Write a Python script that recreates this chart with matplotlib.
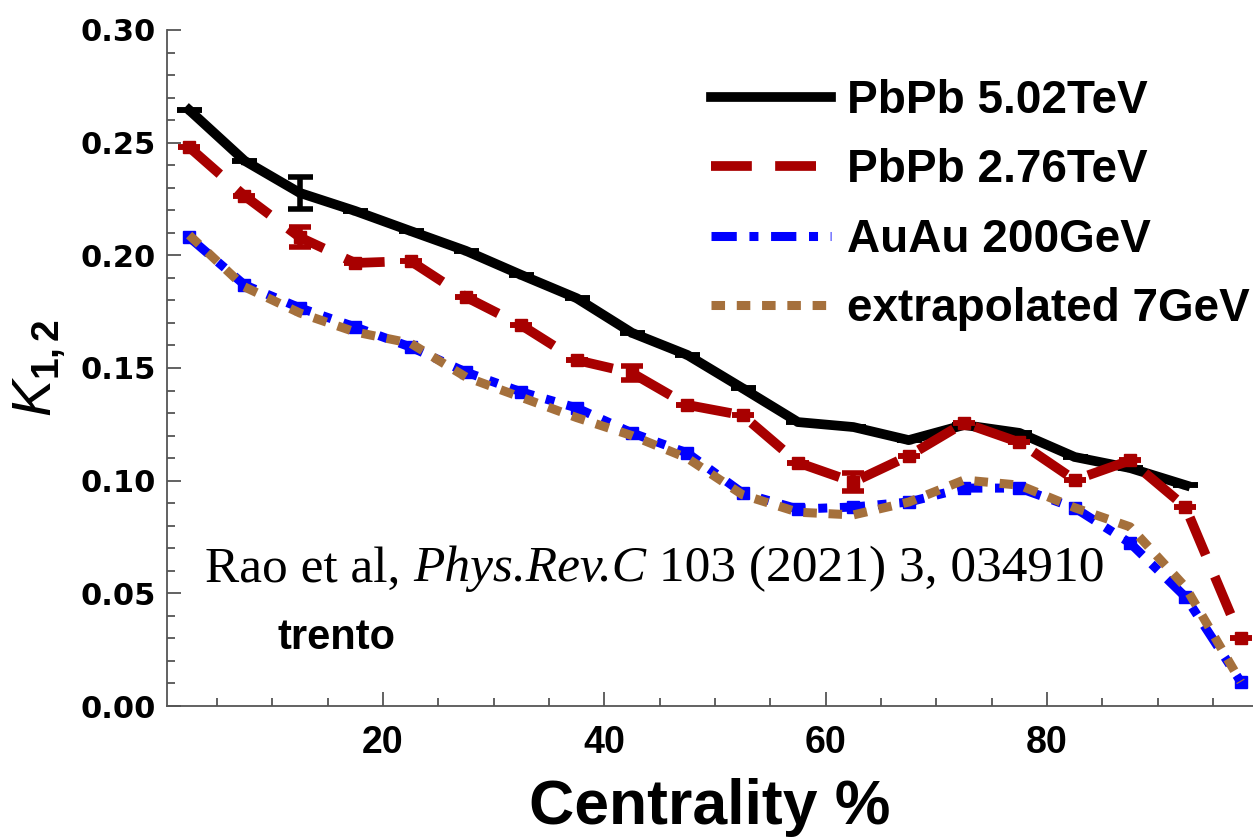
import numpy as np
import matplotlib
matplotlib.use("Agg")
import matplotlib.pyplot as plt
from matplotlib.ticker import MultipleLocator
from matplotlib.lines import Line2D

plt.rcParams['font.family'] = ['Liberation Sans', 'DejaVu Sans']
plt.rcParams['mathtext.fontset'] = 'custom'
plt.rcParams['mathtext.rm'] = 'Liberation Sans:bold'
plt.rcParams['mathtext.it'] = 'Liberation Sans:italic'
plt.rcParams['mathtext.sf'] = 'Liberation Sans:italic'
plt.rcParams['mathtext.bf'] = 'Liberation Sans:bold'

# centrality bin centres (%)
cent = [2.5, 7.5, 12.5, 17.5, 22.5, 27.5, 32.5, 37.5, 42.5, 47.5,
        52.5, 57.5, 62.5, 67.5, 72.5, 77.5, 82.5, 87.5, 92.5, 97.5]

# PbPb 5.02 TeV (stops at 92.5%)
k_pbpb502 = [0.2645, 0.242, 0.2277, 0.2197, 0.2108, 0.202, 0.1913, 0.181, 0.1656, 0.1558,
             0.141, 0.126, 0.1238, 0.118, 0.1247, 0.1212, 0.1105, 0.1056, 0.098]
err_pbpb502 = [0, 0, 0.007, 0, 0, 0, 0, 0, 0, 0,
               0, 0, 0, 0, 0, 0, 0, 0, 0]

k_pbpb276 = [0.248, 0.2264, 0.208, 0.1966, 0.1975, 0.1815, 0.169, 0.1535, 0.1478, 0.1336,
             0.129, 0.108, 0.0994, 0.111, 0.1256, 0.117, 0.1003, 0.109, 0.0883, 0.030]
err_pbpb276 = [0, 0, 0.0045, 0, 0, 0, 0, 0, 0.003, 0,
               0, 0, 0.004, 0, 0, 0, 0, 0, 0, 0]

k_auau200 = [0.208, 0.1869, 0.1767, 0.1682, 0.1593, 0.1482, 0.1394, 0.1323, 0.1212, 0.1123,
             0.0945, 0.0874, 0.0883, 0.0905, 0.0967, 0.0967, 0.0879, 0.0723, 0.0484, 0.0107]

k_extrap7 = [0.209, 0.186, 0.1744, 0.166, 0.161, 0.146, 0.137, 0.128, 0.120, 0.110,
             0.0937, 0.086, 0.0848, 0.0905, 0.1003, 0.098, 0.088, 0.0795, 0.0528, 0.0107]

labels = ['PbPb 5.02TeV', 'PbPb 2.76TeV', 'AuAu 200GeV', 'extrapolated 7GeV']

red = '#A80000'
blue = '#0000FF'
brown = '#A5703C'

fig = plt.figure(figsize=(12.53, 8.39), dpi=100)
ax = fig.add_axes([167/1253, 1 - 706/839, 1 - 167/1253, (706 - 30)/839])

n5 = len(k_pbpb502)
ax.errorbar(cent[:n5], k_pbpb502, yerr=err_pbpb502, color='black', lw=7,
            marker='s', ms=5, elinewidth=4, capsize=9, capthick=4, zorder=3)
ax.errorbar(cent, k_pbpb276, yerr=err_pbpb276, color=red, lw=7,
            dashes=(4.2, 2.4), marker='s', ms=9, elinewidth=4, capsize=8,
            capthick=4, zorder=4)
ax.plot(cent, k_auau200, color=blue, lw=6.5, dashes=(2.8, 1.4, 1.0, 1.4),
        marker='s', ms=8, zorder=5)
ax.plot(cent, k_extrap7, color=brown, lw=6.5, dashes=(1.5, 1.3), zorder=6)

ax.set_xlim(0.5, 98.6)
ax.set_ylim(0, 0.30)
ax.xaxis.set_major_locator(MultipleLocator(20))
ax.xaxis.set_minor_locator(MultipleLocator(5))
ax.yaxis.set_major_locator(MultipleLocator(0.05))
ax.yaxis.set_minor_locator(MultipleLocator(0.01))
ax.set_xticks([20, 40, 60, 80])
ax.tick_params(which='both', direction='in', color='#555555', width=1.3,
               top=False, right=False)
ax.tick_params(which='major', length=10)
ax.tick_params(which='minor', length=6)
ax.tick_params(axis='x', pad=14)
ax.tick_params(axis='y', pad=8)
for t in ax.get_xticklabels():
    t.set_fontsize(27)
    t.set_fontweight('bold')
ax.set_yticks(ax.get_yticks())
ax.set_yticklabels([f'{v:.2f}' for v in ax.get_yticks()],
                   fontsize=22, fontweight='bold', family='DejaVu Sans')
ax.set_ylim(0, 0.30)
for s in ['top', 'right']:
    ax.spines[s].set_visible(False)
for s in ['left', 'bottom']:
    ax.spines[s].set_color('#555555')
    ax.spines[s].set_linewidth(1.3)

ax.set_xlabel('Centrality %', fontsize=45, fontweight='bold', labelpad=12)
fig.text(40/1253, 1 - 368/839, r'$\mathit{K}_{\mathbf{1,2}}$', fontsize=40,
         rotation=90, ha='center', va='center')

# citation, pieced together so the italic journal name keeps tight dots
t1 = ax.text(0.035, 0.168, 'Rao et al, ', transform=ax.transAxes,
             fontsize=37, family='Liberation Serif', ha='left', va='bottom')
t2 = ax.annotate('Phys.Rev.C', xy=(1, 0), xycoords=t1, fontsize=37,
                 family='Liberation Serif', style='italic',
                 ha='left', va='bottom')
ax.annotate(' 103 (2021) 3, 034910', xy=(1, 0), xycoords=t2, fontsize=37,
            family='Liberation Serif', ha='left', va='bottom')

ax.text(0.102, 0.10, 'trento', transform=ax.transAxes, fontsize=30,
        fontweight='bold', ha='left', va='center')

handles = [
    Line2D([], [], color='black', lw=7),
    Line2D([], [], color=red, lw=7, dashes=(4.2, 2.4)),
    Line2D([], [], color=blue, lw=6.5, dashes=(2.8, 1.4, 1.0, 1.4)),
    Line2D([], [], color=brown, lw=6.5, dashes=(1.5, 1.3)),
]
leg = ax.legend(handles, labels, loc='upper right', bbox_to_anchor=(1.022, 0.968),
                frameon=False, prop={'size': 33, 'weight': 'bold'},
                handlelength=2.6, handletextpad=0.35, labelspacing=0.55,
                borderaxespad=0.2)

fig.savefig('out.png', dpi=100, facecolor='white')
